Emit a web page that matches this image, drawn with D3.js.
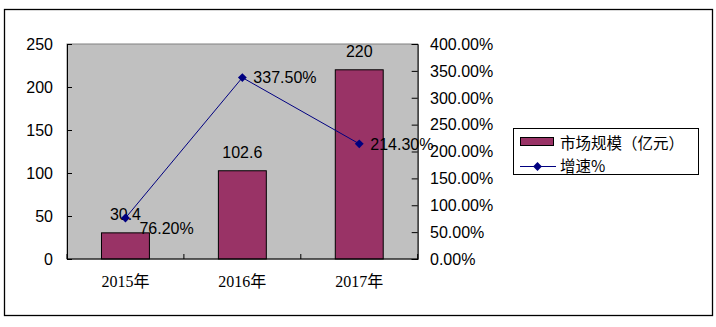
<!DOCTYPE html>
<html><head><meta charset="utf-8">
<script src="https://cdn.jsdelivr.net/npm/d3@7/dist/d3.min.js"></script>
<style>body{margin:0;background:#fff;}svg{display:block;}</style>
</head><body>
<script>
const categories = ["2015年", "2016年", "2017年"];
const marketSize = [30.4, 102.6, 220];
const growth = [76.2, 337.5, 214.3];
const leftTicks = [0, 50, 100, 150, 200, 250];
const rightTicks = [0, 50, 100, 150, 200, 250, 300, 350, 400];
const seriesNames = ["市场规模（亿元）", "增速%"];

const W = 716, H = 327;
const svg = d3.select("body").append("svg").attr("width", W).attr("height", H);
const plot = {l: 67, r: 417.7, t: 44, b: 259};
const numFont = "Arial, 'Liberation Sans', sans-serif";

svg.append("rect").attr("x", 4.5).attr("y", 9.5).attr("width", 708).attr("height", 306)
  .attr("fill", "#fff").attr("stroke", "#000").attr("stroke-width", 1.3);

const x = d3.scaleBand().domain(categories).range([plot.l, plot.r]).paddingInner(0.59).paddingOuter(0.295);
const xc = d3.scaleBand().domain(categories).range([plot.l, plot.r]);
const yL = d3.scaleLinear().domain([0, 250]).range([plot.b, plot.t]);
const yR = d3.scaleLinear().domain([0, 400]).range([plot.b, plot.t]);

svg.append("rect").attr("x", plot.l).attr("y", plot.t).attr("width", plot.r - plot.l).attr("height", plot.b - plot.t)
  .attr("fill", "#c0c0c0").attr("stroke", "#808080").attr("stroke-width", 1);

// bars
svg.selectAll(".bar").data(marketSize).join("rect")
  .attr("x", (d, i) => x(categories[i]))
  .attr("y", d => yL(d))
  .attr("width", x.bandwidth())
  .attr("height", d => plot.b - yL(d))
  .attr("fill", "#993366").attr("stroke", "#000").attr("stroke-width", 1);

// left axis
const gL = svg.append("g").attr("transform", `translate(${plot.l},0)`)
  .call(d3.axisRight(yL).tickValues(leftTicks).tickSize(5).tickFormat(""));
gL.select(".domain").attr("stroke", "#000");
gL.selectAll(".tick line").attr("stroke", "#000");
svg.selectAll(".ltl").data(leftTicks).join("text")
  .attr("x", 53).attr("y", d => yL(d)).attr("dy", "0.36em")
  .attr("text-anchor", "end").attr("font-family", numFont).attr("font-size", 16).attr("fill", "#000")
  .text(d => d);

// right axis
const gR = svg.append("g").attr("transform", `translate(${plot.r},0)`)
  .call(d3.axisLeft(yR).tickValues(rightTicks).tickSize(6).tickFormat(""));
gR.select(".domain").attr("stroke", "#000");
gR.selectAll(".tick line").attr("stroke", "#000");
svg.selectAll(".rtl").data(rightTicks).join("text")
  .attr("x", 430).attr("y", d => yR(d)).attr("dy", "0.36em")
  .attr("text-anchor", "start").attr("font-family", numFont).attr("font-size", 16).attr("fill", "#000")
  .text(d => d3.format(".2f")(d) + "%");

// bottom axis
const gB = svg.append("g").attr("transform", `translate(0,${plot.b})`)
  .call(d3.axisTop(xc).tickSize(5).tickFormat("").tickValues(categories.slice(1)).offset(0));
gB.selectAll(".tick").attr("transform", d => `translate(${xc(d)},0)`);
gB.select(".domain").attr("stroke", "#000");
gB.selectAll(".tick line").attr("stroke", "#000");
svg.selectAll(".xtl").data(categories).join("text")
  .attr("x", d => xc(d) + xc.bandwidth() / 2).attr("y", 287)
  .attr("text-anchor", "middle").attr("font-family", "'Liberation Serif', 'Noto Sans CJK SC', serif")
  .attr("font-size", 16).attr("fill", "#000")
  .text(d => d);

// bar labels
svg.selectAll(".bl").data(marketSize).join("text")
  .attr("x", (d, i) => xc(categories[i]) + xc.bandwidth() / 2)
  .attr("y", d => yL(d) - 13)
  .attr("text-anchor", "middle").attr("font-family", numFont).attr("font-size", 16).attr("fill", "#000")
  .text(d => d);

// line
const cx = (i) => xc(categories[i]) + xc.bandwidth() / 2;
const line = d3.line().x((d, i) => cx(i)).y(d => yR(d));
svg.append("path").datum(growth).attr("d", line).attr("fill", "none").attr("stroke", "#000080").attr("stroke-width", 1);
const diamond = d3.symbol().type(d3.symbolDiamond2).size(50);
svg.selectAll(".pt").data(growth).join("path")
  .attr("transform", (d, i) => `translate(${cx(i)},${yR(d)})`)
  .attr("d", diamond).attr("fill", "#000080");

svg.selectAll(".gl").data(growth).join("text")
  .attr("x", (d, i) => cx(i) + (i === 0 ? 14 : 11))
  .attr("y", (d, i) => yR(d) + (i === 0 ? 10 : 0)).attr("dy", "0.36em")
  .attr("text-anchor", "start").attr("font-family", numFont).attr("font-size", 16).attr("fill", "#000")
  .text(d => d3.format(".2f")(d) + "%");

// legend
const lg = svg.append("g");
lg.append("rect").attr("x", 513.5).attr("y", 128.5).attr("width", 185).attr("height", 46)
  .attr("fill", "#fff").attr("stroke", "#000").attr("stroke-width", 1);
lg.append("rect").attr("x", 520.5).attr("y", 137.5).attr("width", 33).attr("height", 8)
  .attr("fill", "#993366").attr("stroke", "#000").attr("stroke-width", 1);
lg.append("line").attr("x1", 520).attr("x2", 556).attr("y1", 166.5).attr("y2", 166.5)
  .attr("stroke", "#000080").attr("stroke-width", 1);
lg.append("path").attr("transform", "translate(537.5,166.5)").attr("d", diamond).attr("fill", "#000080");
lg.selectAll(".lt").data(seriesNames).join("text")
  .attr("x", 560).attr("y", (d, i) => i === 0 ? 143 : 166).attr("dy", "0.36em")
  .attr("font-family", "'Noto Sans CJK SC', sans-serif").attr("font-size", 15.5).attr("fill", "#000")
  .text(d => d);
</script>
</body></html>
